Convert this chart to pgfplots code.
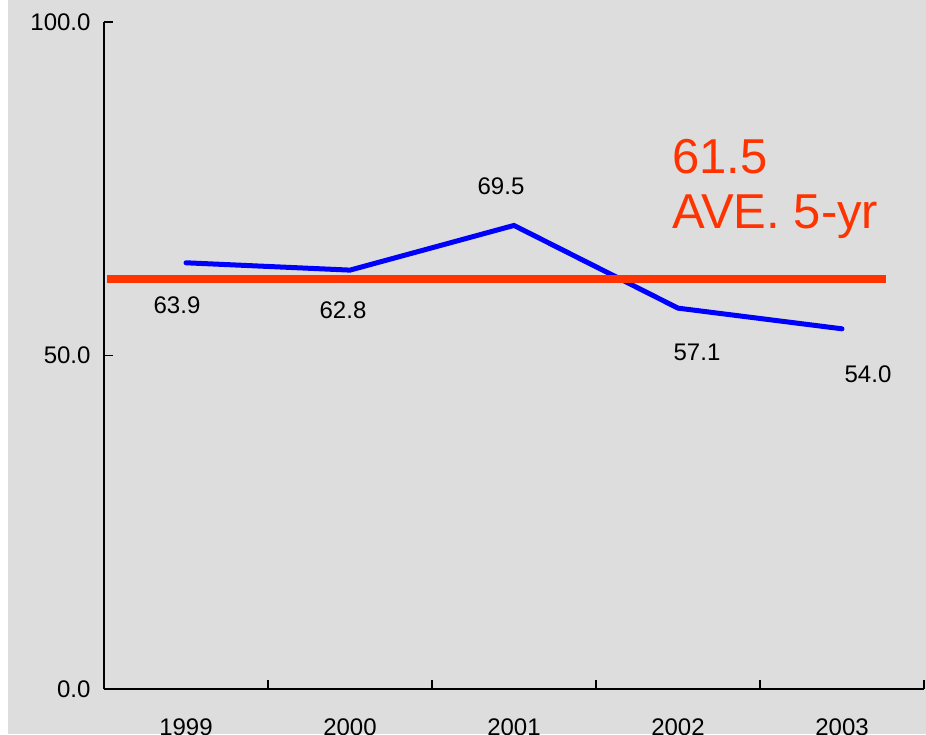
\documentclass[border=0pt]{standalone}
\usepackage{pgfplots}
\pgfplotsset{compat=1.18}
\usepackage{fontspec}
\setmainfont{Liberation Sans}
\definecolor{bggray}{HTML}{DDDDDD}
\definecolor{avgred}{HTML}{FF3300}
\definecolor{lineblue}{HTML}{0000FF}
\newcommand{\lblfont}{\fontsize{24}{28}\selectfont}
\begin{document}
\begin{tikzpicture}[x=1pt,y=1pt]
\fill[white] (-104,-45) rectangle (822,689);
\fill[bggray] (-96,-45) rectangle (822,689);
\useasboundingbox (-104,-45) rectangle (822,689);
\clip (-104,-45) rectangle (822,689);
\begin{axis}[
  at={(0,0)}, anchor=origin,
  scale only axis,
  width=820pt, height=667pt,
  xmin=0.5, xmax=5.5, ymin=0, ymax=100,
  axis x line*=bottom, axis y line*=left,
  axis line style={-, line width=1.4pt, black},
  xtick={1,2,3,4,5},
  xticklabels={1999,2000,2001,2002,2003},
  minor xtick={0.5,1.5,2.5,3.5,4.5,5.5},
  major x tick style={draw=none},
  minor tick length=9pt,
  ytick={0,50,100},
  major tick length=9pt,
  tick align=inside,
  tick style={line width=1.4pt, black},
  /pgf/number format/assume math mode=true,
  yticklabel style={/pgf/number format/fixed, /pgf/number format/fixed zerofill, /pgf/number format/precision=1, xshift=-10pt, font=\lblfont},
  xticklabel style={yshift=-26pt, font=\lblfont},
  clip=false,
]
\addplot[lineblue, line width=5pt, line cap=round, line join=miter] coordinates {
  (1,63.9) (2,62.8) (3,69.5) (4,57.1) (5,54.0)
};
\addplot[avgred, line width=8pt] coordinates {(0.52,61.5) (5.27,61.5)};
\begin{scope}[font=\lblfont]
\node[xshift=-9pt, yshift=-42pt] at (axis cs:1,63.9) {63.9};
\node[xshift=-7pt, yshift=-40pt] at (axis cs:2,62.8) {62.8};
\node[xshift=-13pt, yshift=39pt] at (axis cs:3,69.5) {69.5};
\node[xshift=19pt, yshift=-44pt] at (axis cs:4,57.1) {57.1};
\node[xshift=26pt, yshift=-45pt] at (axis cs:5,54.0) {54.0};
\end{scope}
\node[anchor=base west, inner sep=0pt, text=avgred, font=\fontsize{49}{56}\selectfont] at (axis cs:3.963,77.36) {61.5};
\node[anchor=base west, inner sep=0pt, text=avgred, font=\fontsize{49}{56}\selectfont] at (axis cs:3.963,68.97) {AVE. 5-yr};
\end{axis}
\end{tikzpicture}
\end{document}
